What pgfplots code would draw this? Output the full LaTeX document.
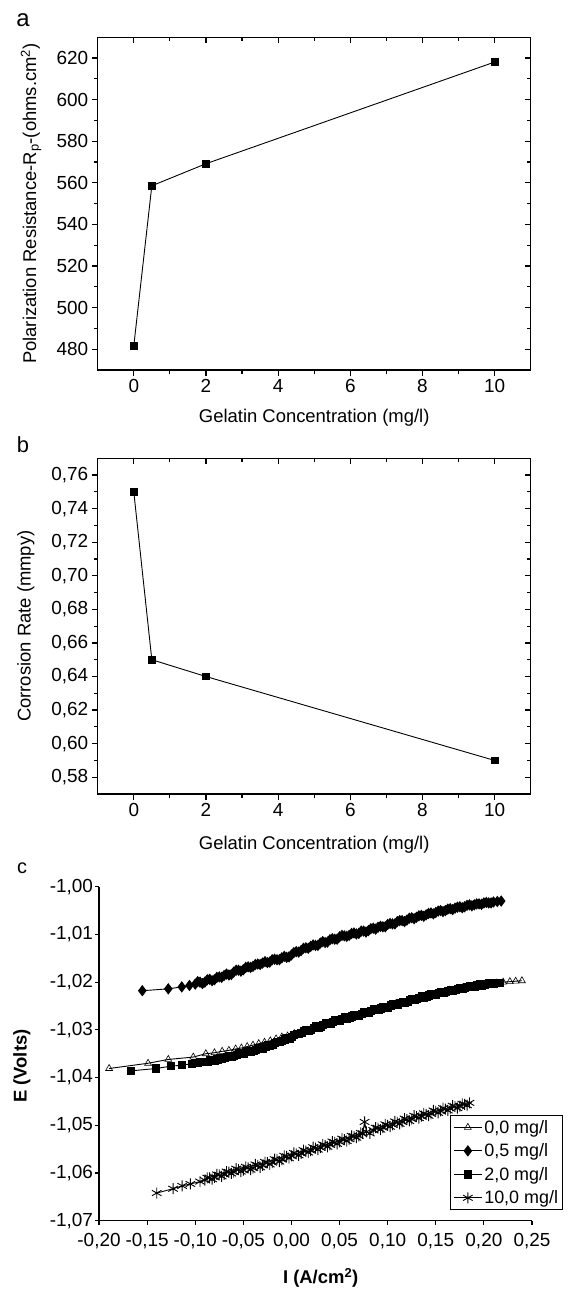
\documentclass[border=0pt]{standalone}
\usepackage{fontspec}
\setmainfont{Liberation Sans}
\usepackage{pgfplots}
\pgfplotsset{compat=1.18}
\pgfplotsset{
  common/.style={
    scale only axis, width=433bp,
    axis line style={line width=1.4bp},
    tick style={black, line width=1.2bp},
    major tick length=6bp, minor tick length=3.5bp,
    ticklabel style={font=\fontsize{19}{21}\selectfont},
    label style={font=\fontsize{18.5}{22}\selectfont},
    /pgf/number format/assume math mode=true,
    xmin=-1, xmax=11, xtick={0,2,4,6,8,10}, minor x tick num=1, minor y tick num=1,
  },
  panelA/.style={common, height=332.7bp, at={(97.7bp,-370bp)}, anchor=south west,
    ymin=470, ymax=630, ytick={480,500,520,540,560,580,600,620}},
  panelB/.style={common, height=335.7bp, at={(97.7bp,-794bp)}, anchor=south west,
    ymin=0.57, ymax=0.77, ytick={0.58,0.60,0.62,0.64,0.66,0.68,0.70,0.72,0.74,0.76},
    yticklabel style={/pgf/number format/fixed, /pgf/number format/fixed zerofill,
      /pgf/number format/precision=2, /pgf/number format/use comma}},
  outerticks/.style={tick align=outside, xtick pos=left, ytick pos=left},
  innerticks/.style={tick align=inside, xtick pos=right, ytick pos=right, xticklabels={}, yticklabels={}},
  ser/.style={black, line width=0.9bp, mark options={solid}},
}
\begin{document}
\begin{tikzpicture}
\useasboundingbox (0bp,0bp) rectangle (568bp,-1289bp);
% ---------------- panel a
\begin{axis}[panelA, outerticks,
  xlabel={Gelatin Concentration (mg/l)},
  ylabel={Polarization Resistance-R\textsubscript{p}-(ohms.cm\textsuperscript{2})},
  xlabel style={at={(axis description cs:0.5,-0.144)}, anchor=center},
  ylabel style={at={(axis description cs:-0.154,0.5)}, anchor=center}]
\addplot[ser, mark=square*, mark size=3.4bp] coordinates {(0,481.6) (0.5,558.6) (2,569.2) (10,618.1)};
\end{axis}
\begin{axis}[panelA, innerticks]
\end{axis}
\node[font=\fontsize{24}{27}\selectfont] at (23bp,-20bp) {a};
% ---------------- panel b
\begin{axis}[panelB, outerticks,
  xlabel={Gelatin Concentration (mg/l)},
  ylabel={Corrosion Rate (mmpy)},
  xlabel style={at={(axis description cs:0.5,-0.152)}, anchor=center},
  ylabel style={at={(axis description cs:-0.166,0.5)}, anchor=center}]
\addplot[ser, mark=square*, mark size=3.4bp] coordinates {(0,0.75) (0.5,0.65) (2,0.64) (10,0.59)};
\end{axis}
\begin{axis}[panelB, innerticks]
\end{axis}
\node[font=\fontsize{22}{25}\selectfont] at (23bp,-445bp) {b};
% ---------------- panel c
\begin{axis}[scale only axis, width=433bp, height=334bp, at={(99bp,-1220.7bp)}, anchor=south west,
  xmin=-0.2, xmax=0.25, ymin=-1.07, ymax=-1.0,
  axis lines*=left,
  axis line style={line width=1.3bp},
  tick style={black, line width=1.2bp},
  tick align=outside, major tick length=4bp,
  xtick={-0.2,-0.15,-0.1,-0.05,0,0.05,0.1,0.15,0.2,0.25},
  ytick={-1.07,-1.06,-1.05,-1.04,-1.03,-1.02,-1.01,-1.0},
  /pgf/number format/assume math mode=true,
  ticklabel style={font=\fontsize{19}{21}\selectfont, /pgf/number format/fixed, /pgf/number format/fixed zerofill, /pgf/number format/precision=2, /pgf/number format/use comma},
  xticklabel style={yshift=-5bp},
  yticklabel style={xshift=1.5bp},
  xlabel={I (A/cm\textsuperscript{2})}, ylabel={E (Volts)},
  label style={font=\fontsize{18.5}{22}\selectfont\bfseries},
  xlabel style={at={(axis description cs:0.512,-0.171)}, anchor=center},
  ylabel style={at={(axis description cs:-0.178,0.463)}, anchor=center},
  legend style={at={(axis description cs:1,0)}, anchor=south east, xshift=31bp, yshift=10.7bp,
    draw=black, line width=0.9bp, font=\fontsize{18}{20}\selectfont, row sep=5bp, inner sep=2.5bp},
  legend cell align=left,
  legend image code/.code={\draw[mark repeat=2,mark phase=2] plot coordinates {(0bp,0bp) (14bp,0bp) (28bp,0bp)};},
]
\addplot[ser, mark=triangle, mark size=4bp, mark options={line width=0.6bp}] coordinates {
(-0.1895,-1.0381) (-0.149,-1.0370) (-0.128,-1.0362) (-0.102,-1.0357) (-0.089,-1.0350) (-0.080,-1.0348)
(-0.072,-1.0345) (-0.065,-1.0343) (-0.058,-1.0340) (-0.052,-1.0338) (-0.046,-1.0335) (-0.040,-1.0332)
(-0.034,-1.0329) (-0.028,-1.0326) (-0.022,-1.0323) (-0.016,-1.0319) (-0.010,-1.0315) (-0.004,-1.0313)
(0.003,-1.0308) (0.010,-1.0304) (0.017,-1.0301) (0.024,-1.0295) (0.031,-1.0293) (0.038,-1.0286)
(0.045,-1.0284) (0.052,-1.0279) (0.059,-1.0276) (0.066,-1.0271) (0.073,-1.0268) (0.080,-1.0262)
(0.087,-1.0260) (0.094,-1.0254) (0.101,-1.0253) (0.108,-1.0246) (0.115,-1.0245) (0.122,-1.0239)
(0.129,-1.0237) (0.136,-1.0231) (0.143,-1.0230) (0.150,-1.0224) (0.157,-1.0223) (0.164,-1.0217)
(0.171,-1.0216) (0.178,-1.0212) (0.185,-1.0211) (0.192,-1.0207) (0.199,-1.0206) (0.206,-1.0203)
(0.213,-1.0202) (0.220,-1.0200) (0.227,-1.0199) (0.233,-1.0198) (0.2395,-1.0197)};
\addlegendentry{0,0 mg/l}
\addplot[ser, mark=diamond*, mark size=5bp] coordinates {
(-0.155,-1.0218) (-0.128,-1.0214) (-0.114,-1.0210) (-0.106,-1.0207)
(-0.100,-1.0204) (-0.0975,-1.0199) (-0.095,-1.0200) (-0.0925,-1.0203) (-0.090,-1.0200) (-0.0875,-1.0195)
(-0.085,-1.0194) (-0.0825,-1.0197) (-0.080,-1.0195) (-0.0775,-1.0190) (-0.075,-1.0189) (-0.0725,-1.0190)
(-0.070,-1.0186) (-0.0675,-1.0183) (-0.065,-1.0185) (-0.0625,-1.0184) (-0.060,-1.0179) (-0.0575,-1.0175)
(-0.055,-1.0175) (-0.0525,-1.0177) (-0.050,-1.0174) (-0.0475,-1.0169) (-0.045,-1.0168) (-0.0425,-1.0169)
(-0.040,-1.0167) (-0.0375,-1.0163) (-0.035,-1.0162) (-0.0325,-1.0163) (-0.030,-1.0160) (-0.0275,-1.0157)
(-0.025,-1.0159) (-0.0225,-1.0158) (-0.020,-1.0153) (-0.0175,-1.0152) (-0.015,-1.0153) (-0.0125,-1.0153)
(-0.010,-1.0149) (-0.0075,-1.0146) (-0.005,-1.0148) (-0.0025,-1.0147) (0.000,-1.0143) (0.0025,-1.0138)
(0.005,-1.0136) (0.0075,-1.0137) (0.010,-1.0134) (0.0125,-1.0129) (0.015,-1.0128) (0.0175,-1.0129)
(0.020,-1.0125) (0.0225,-1.0122) (0.025,-1.0123) (0.0275,-1.0123) (0.030,-1.0118) (0.0325,-1.0115)
(0.035,-1.0117) (0.0375,-1.0116) (0.040,-1.0111) (0.0425,-1.0109) (0.045,-1.0110) (0.0475,-1.0110)
(0.050,-1.0105) (0.0525,-1.0102) (0.055,-1.0103) (0.0575,-1.0104) (0.060,-1.0102) (0.0625,-1.0098)
(0.065,-1.0097) (0.0675,-1.0099) (0.070,-1.0098) (0.0725,-1.0093) (0.075,-1.0093) (0.0775,-1.0095)
(0.080,-1.0092) (0.0825,-1.0088) (0.085,-1.0087) (0.0875,-1.0089) (0.090,-1.0085) (0.0925,-1.0083)
(0.095,-1.0084) (0.0975,-1.0084) (0.100,-1.0079) (0.1025,-1.0077) (0.105,-1.0078) (0.1075,-1.0078)
(0.110,-1.0073) (0.1125,-1.0071) (0.115,-1.0071) (0.1175,-1.0073) (0.120,-1.0070) (0.1225,-1.0066)
(0.125,-1.0065) (0.1275,-1.0067) (0.130,-1.0064) (0.1325,-1.0061) (0.135,-1.0060) (0.1375,-1.0062)
(0.140,-1.0059) (0.1425,-1.0056) (0.145,-1.0055) (0.1475,-1.0057) (0.150,-1.0054) (0.1525,-1.0051)
(0.155,-1.0050) (0.1575,-1.0052) (0.160,-1.0050) (0.1625,-1.0047) (0.165,-1.0046) (0.1675,-1.0048)
(0.170,-1.0045) (0.1725,-1.0043) (0.175,-1.0042) (0.1775,-1.0044) (0.180,-1.0042) (0.1825,-1.0039)
(0.185,-1.0038) (0.1875,-1.0040) (0.190,-1.0038) (0.1925,-1.0036) (0.195,-1.0036) (0.1975,-1.0037)
(0.200,-1.0034) (0.2025,-1.0033) (0.205,-1.0034) (0.2075,-1.0034) (0.210,-1.0032) (0.214,-1.0031)
(0.218,-1.0030)};
\addlegendentry{0,5 mg/l}
\addplot[ser, mark=square*, mark size=3.6bp] coordinates {
(-0.167,-1.0386) (-0.1407,-1.0381) (-0.125,-1.0376) (-0.1136,-1.0374) (-0.1035,-1.0371) (-0.1000,-1.0369)
(-0.097,-1.0370) (-0.0945,-1.0367) (-0.092,-1.0368) (-0.0895,-1.0368) (-0.087,-1.0367) (-0.0845,-1.0364)
(-0.082,-1.0364) (-0.0795,-1.0364) (-0.077,-1.0362) (-0.0745,-1.0359) (-0.072,-1.0360) (-0.0695,-1.0359)
(-0.067,-1.0357) (-0.0645,-1.0354) (-0.062,-1.0356) (-0.0595,-1.0355) (-0.057,-1.0352) (-0.0545,-1.0349)
(-0.052,-1.0351) (-0.0495,-1.0350) (-0.047,-1.0347) (-0.0445,-1.0344) (-0.042,-1.0346) (-0.0395,-1.0345)
(-0.037,-1.0342) (-0.0345,-1.0338) (-0.032,-1.0340) (-0.0295,-1.0339) (-0.027,-1.0335) (-0.0245,-1.0332)
(-0.022,-1.0333) (-0.0195,-1.0332) (-0.017,-1.0328) (-0.0145,-1.0325) (-0.012,-1.0325) (-0.0095,-1.0324)
(-0.007,-1.0320) (-0.0045,-1.0317) (-0.002,-1.0318) (0.0005,-1.0315) (0.003,-1.0311) (0.0055,-1.0308)
(0.008,-1.0309) (0.0105,-1.0307) (0.013,-1.0303) (0.0155,-1.0300) (0.018,-1.0302) (0.0205,-1.0300)
(0.023,-1.0296) (0.0255,-1.0293) (0.028,-1.0295) (0.0305,-1.0293) (0.033,-1.0289) (0.0355,-1.0286)
(0.038,-1.0288) (0.0405,-1.0287) (0.043,-1.0283) (0.0455,-1.0280) (0.048,-1.0282) (0.0505,-1.0281)
(0.053,-1.0277) (0.0555,-1.0274) (0.058,-1.0276) (0.0605,-1.0275) (0.063,-1.0272) (0.0655,-1.0269)
(0.068,-1.0271) (0.0705,-1.0270) (0.073,-1.0266) (0.0755,-1.0263) (0.078,-1.0265) (0.0805,-1.0264)
(0.083,-1.0260) (0.0855,-1.0257) (0.088,-1.0259) (0.0905,-1.0258) (0.093,-1.0255) (0.0955,-1.0252)
(0.098,-1.0254) (0.1005,-1.0253) (0.103,-1.0249) (0.1055,-1.0246) (0.108,-1.0248) (0.1105,-1.0247)
(0.113,-1.0244) (0.1155,-1.0241) (0.118,-1.0243) (0.1205,-1.0242) (0.123,-1.0238) (0.1255,-1.0235)
(0.128,-1.0237) (0.1305,-1.0236) (0.133,-1.0233) (0.1355,-1.0230) (0.138,-1.0232) (0.1405,-1.0231)
(0.143,-1.0228) (0.1455,-1.0225) (0.148,-1.0227) (0.1505,-1.0226) (0.153,-1.0223) (0.1555,-1.0220)
(0.158,-1.0222) (0.1605,-1.0221) (0.163,-1.0218) (0.1655,-1.0216) (0.168,-1.0218) (0.1705,-1.0217)
(0.173,-1.0214) (0.1755,-1.0212) (0.178,-1.0214) (0.1805,-1.0213) (0.183,-1.0210) (0.1855,-1.0208)
(0.188,-1.0210) (0.1905,-1.0209) (0.193,-1.0207) (0.1955,-1.0205) (0.198,-1.0207) (0.2005,-1.0206)
(0.203,-1.0204) (0.2055,-1.0202) (0.208,-1.0204) (0.2105,-1.0203) (0.213,-1.0202) (0.217,-1.0201)};
\addlegendentry{2,0 mg/l}
\addplot[ser, mark=asterisk, mark size=5.5bp, mark options={line width=0.9bp}] coordinates {
(-0.140,-1.0642) (-0.123,-1.0633) (-0.1136,-1.0627) (-0.105,-1.0623) (-0.095,-1.0618)
(-0.090,-1.0615) (-0.0875,-1.0610) (-0.085,-1.0610) (-0.0825,-1.0613) (-0.080,-1.0609) (-0.0775,-1.0603)
(-0.075,-1.0604) (-0.0725,-1.0607) (-0.070,-1.0603) (-0.0675,-1.0597) (-0.065,-1.0598) (-0.0625,-1.0601)
(-0.060,-1.0598) (-0.0575,-1.0591) (-0.055,-1.0593) (-0.0525,-1.0597) (-0.050,-1.0594) (-0.0475,-1.0587)
(-0.045,-1.0589) (-0.0425,-1.0593) (-0.040,-1.0590) (-0.0375,-1.0582) (-0.035,-1.0584) (-0.0325,-1.0588)
(-0.030,-1.0584) (-0.0275,-1.0577) (-0.025,-1.0578) (-0.0225,-1.0582) (-0.020,-1.0578) (-0.0175,-1.0571)
(-0.015,-1.0572) (-0.0125,-1.0576) (-0.010,-1.0572) (-0.0075,-1.0564) (-0.005,-1.0565) (-0.0025,-1.0569)
(0.000,-1.0564) (0.0025,-1.0558) (0.005,-1.0560) (0.0075,-1.0563) (0.010,-1.0559) (0.0125,-1.0552)
(0.015,-1.0554) (0.0175,-1.0557) (0.020,-1.0553) (0.0225,-1.0546) (0.025,-1.0548) (0.0275,-1.0551)
(0.030,-1.0547) (0.0325,-1.0540) (0.035,-1.0542) (0.0375,-1.0545) (0.040,-1.0541) (0.0425,-1.0534)
(0.045,-1.0536) (0.0475,-1.0539) (0.050,-1.0535) (0.0525,-1.0528) (0.055,-1.0530) (0.0575,-1.0533)
(0.060,-1.0529) (0.0625,-1.0522) (0.065,-1.0523) (0.0675,-1.0526) (0.070,-1.0522) (0.072,-1.0516)
(0.074,-1.0517) (0.076,-1.0493) (0.078,-1.0514) (0.0815,-1.0517) (0.085,-1.0510) (0.0875,-1.0505)
(0.090,-1.0506) (0.0925,-1.0509) (0.095,-1.0505) (0.0975,-1.0498) (0.100,-1.0500) (0.1025,-1.0503)
(0.105,-1.0499) (0.1075,-1.0492) (0.110,-1.0494) (0.1125,-1.0497) (0.115,-1.0493) (0.1175,-1.0486)
(0.120,-1.0488) (0.1225,-1.0491) (0.125,-1.0487) (0.1275,-1.0480) (0.130,-1.0482) (0.1325,-1.0485)
(0.135,-1.0481) (0.1375,-1.0475) (0.140,-1.0477) (0.1425,-1.0480) (0.145,-1.0476) (0.1475,-1.0469)
(0.150,-1.0471) (0.1525,-1.0474) (0.155,-1.0470) (0.1575,-1.0464) (0.160,-1.0466) (0.1625,-1.0469)
(0.165,-1.0465) (0.1675,-1.0459) (0.170,-1.0461) (0.1725,-1.0464) (0.175,-1.0460) (0.1775,-1.0455)
(0.180,-1.0456) (0.1825,-1.0458) (0.185,-1.0453)};
\addlegendentry{10,0 mg/l}
\end{axis}
\node[font=\fontsize{20}{23}\selectfont] at (22bp,-868bp) {c};
\end{tikzpicture}
\end{document}
